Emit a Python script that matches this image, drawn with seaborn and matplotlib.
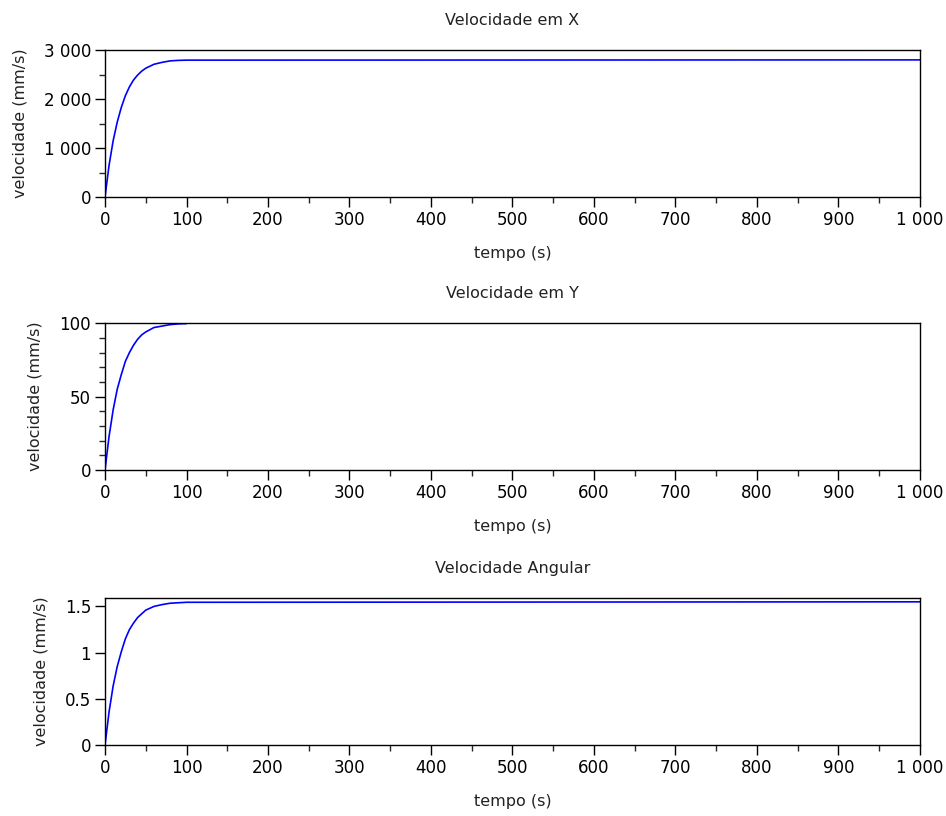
import seaborn as sns
import matplotlib.pyplot as plt
import matplotlib.ticker as mticker
import pandas as pd

sns.set_style('ticks')
plt.rcParams['font.family'] = ['DejaVu Sans']

# values
tempo = [0, 5, 10, 15, 20, 25, 30, 35, 40, 45, 50, 60, 70, 80, 90, 100, 1000]
vel_x = [0, 650, 1150, 1530, 1830, 2070, 2250, 2390, 2490, 2570, 2630,
         2710, 2750, 2780, 2790, 2795, 2800]
tempo_y = [0, 5, 10, 15, 20, 25, 30, 35, 40, 45, 50, 60, 70, 80, 90, 100]
vel_y = [0, 23, 41, 55, 65, 74, 80, 85, 89, 92, 94, 97, 98, 99, 99.5, 99.7]
vel_ang = [0, 0.36, 0.64, 0.85, 1.01, 1.15, 1.25, 1.32, 1.38, 1.42, 1.46,
           1.50, 1.52, 1.535, 1.54, 1.545, 1.55]

titles = ['Velocidade em X', 'Velocidade em Y', 'Velocidade Angular']
dados = [
    pd.DataFrame({'t': tempo, 'v': vel_x}),
    pd.DataFrame({'t': tempo_y, 'v': vel_y}),
    pd.DataFrame({'t': tempo, 'v': vel_ang}),
]
ylims = [(0, 3000), (0, 100), (0, 1.59)]
yticks = [[0, 1000, 2000, 3000], [0, 50, 100], [0, 0.5, 1, 1.5]]
yminor = [500, 10, None]

def milhar(v, pos):
    if abs(v - round(v)) < 1e-9:
        return '{:,.0f}'.format(v).replace(',', ' ')
    return '{:g}'.format(v)

fig = plt.figure(figsize=(9.46, 8.16), dpi=100)
bottoms = [0.7586, 0.424, 0.087]
for i in range(3):
    ax = fig.add_axes([0.111, bottoms[i], 0.8615, 0.180])
    sns.lineplot(x='t', y='v', data=dados[i], ax=ax, color='#0000ff',
                 linewidth=1.2, estimator=None)
    ax.set_xlim(0, 1000)
    ax.set_ylim(*ylims[i])
    ax.set_xticks(range(0, 1001, 100))
    ax.xaxis.set_minor_locator(mticker.MultipleLocator(50))
    ax.set_yticks(yticks[i])
    if yminor[i]:
        ax.yaxis.set_minor_locator(mticker.MultipleLocator(yminor[i]))
    ax.xaxis.set_major_formatter(mticker.FuncFormatter(milhar))
    ax.yaxis.set_major_formatter(mticker.FuncFormatter(milhar))
    ax.tick_params(which='major', direction='out', length=7, width=1,
                   labelsize=12, colors='black', pad=3)
    ax.tick_params(which='minor', direction='out', length=4, width=1)
    for s in ax.spines.values():
        s.set_visible(True)
        s.set_color('black')
        s.set_linewidth(1.0)
    ax.set_title(titles[i], fontsize=11.5, pad=18, color='#222222')
    ax.set_xlabel('tempo (s)', fontsize=11.5, labelpad=12, color='#222222')
    ax.set_ylabel('velocidade (mm/s)', fontsize=11.5, labelpad=12,
                  color='#222222')

fig.savefig('out.png', dpi=100)
